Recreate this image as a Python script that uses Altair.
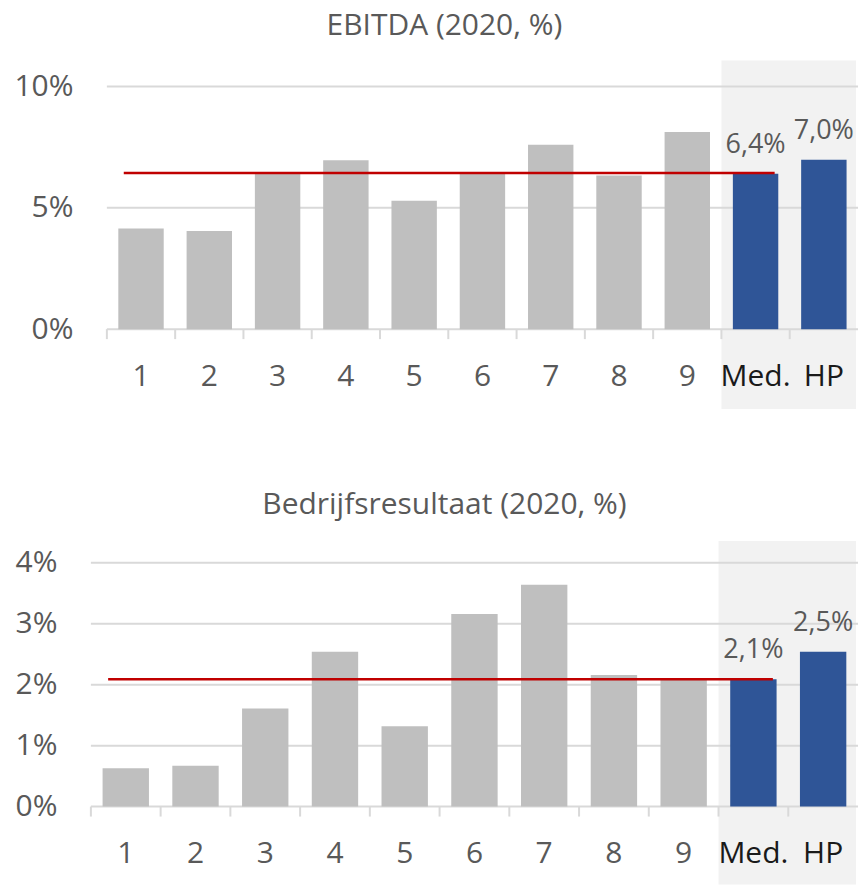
import altair as alt
import pandas as pd

FONT = "Open Sans"

CATS = ["1", "2", "3", "4", "5", "6", "7", "8", "9", "Med.", "HP"]
HIGHLIGHT = ["Med.", "HP"]

EBITDA_TITLE = "EBITDA (2020, %)"
EBITDA_VALUES = [4.15, 4.04, 6.43, 6.96, 5.29, 6.43, 7.60, 6.33, 8.12, 6.40, 6.98]
EBITDA_MEDIAN = 6.43
EBITDA_TICKS = [0, 5, 10]

BEDRIJF_TITLE = "Bedrijfsresultaat (2020, %)"
BEDRIJF_VALUES = [0.63, 0.67, 1.61, 2.54, 1.32, 3.16, 3.64, 2.16, 2.09, 2.09, 2.54]
BEDRIJF_MEDIAN = 2.09
BEDRIJF_TICKS = [0, 1, 2, 3, 4]

GREY_TEXT = "#595959"
GRID = "#d9d9d9"
P_INNER = 0.335
P_OUTER = P_INNER / 2
WIDTH = 768
EXTENT = 91


def panel(title, values, median, ticks, left, height,
          gray_top, gray_bottom, title_y):
    df = pd.DataFrame({
        "cat": CATS,
        "val": values,
        "grp": ["hl" if c in HIGHLIGHT else "base" for c in CATS],
        "lab": [f"{v:.1f}".replace(".", ",") + "%" for v in values],
    })
    span = WIDTH - left
    step = span / (len(CATS) - P_INNER + 2 * P_OUTER)
    half_gap = -P_INNER * step / 2
    xscale = alt.Scale(domain=CATS, paddingInner=P_INNER, paddingOuter=P_OUTER,
                       range=[left, WIDTH])
    yscale = alt.Scale(domain=[0, ticks[-1]], nice=False, zero=True)

    x = alt.X(
        "cat:N", scale=xscale, sort=None,
        axis=alt.Axis(
            title=None, labelAngle=0, labelAlign="center", domain=False,
            ticks=False, tickSize=0, grid=False, labelPadding=56,
            labelBaseline="alphabetic", labelFont=FONT, labelFontSize=30,
            labelOverlap=False,
            labelColor={"condition": {"test": "datum.value == 'Med.' || datum.value == 'HP'",
                                      "value": "#1a1a1a"},
                        "value": GREY_TEXT},
        ),
    )
    y = alt.Y(
        "val:Q", scale=yscale,
        axis=alt.Axis(
            title=None, values=ticks, labelExpr="datum.value + '%'", grid=False,
            domain=False, ticks=False, tickSize=0, labelPadding=34 - left,
            labelFont=FONT, labelFontSize=30, labelColor=GREY_TEXT,
            minExtent=EXTENT, maxExtent=EXTENT,
        ),
    )

    gray = alt.Chart(pd.DataFrame({"cat": [HIGHLIGHT[0]]})).mark_rect(
        color="#f2f2f2", clip=False, xOffset=half_gap
    ).encode(
        x=alt.X("cat:N", scale=xscale, bandPosition=0),
        x2=alt.value(WIDTH - 2),
        y=alt.value(gray_top),
        y2=alt.value(height + gray_bottom),
    )

    grid = alt.Chart(pd.DataFrame({"val": ticks})).mark_rule(
        color=GRID, strokeWidth=2
    ).encode(y=y, x=alt.value(left), x2=alt.value(WIDTH))

    tickmarks = alt.Chart(df).mark_rule(
        color=GRID, strokeWidth=2, xOffset=half_gap
    ).encode(
        x=alt.X("cat:N", scale=xscale, bandPosition=0),
        y=alt.value(height),
        y2=alt.value(height + 10),
    )

    bars = alt.Chart(df).mark_bar().encode(
        x=x, y=y,
        color=alt.Color("grp:N", scale=alt.Scale(domain=["base", "hl"],
                                                 range=["#bfbfbf", "#2f5597"]),
                        legend=None),
    )

    med = alt.Chart(pd.DataFrame({"cat": [CATS[0]], "cat2": [HIGHLIGHT[0]],
                                  "val": [median]})).mark_rule(
        color="#c00000", strokeWidth=2.5
    ).encode(
        x=alt.X("cat:N", scale=xscale, bandPosition=0.12),
        x2=alt.X2("cat2", bandPosition=0.92),
        y=y,
    )

    labels = alt.Chart(df).transform_filter(
        "datum.grp == 'hl'"
    ).mark_text(
        dy=-21, baseline="alphabetic", align="center", font=FONT,
        fontSize=27, color=GREY_TEXT
    ).encode(x=x, y=y, text="lab:N")

    ttl = alt.Chart(pd.DataFrame({"t": [title]})).mark_text(
        baseline="alphabetic", align="center", font=FONT, fontSize=30,
        color=GREY_TEXT
    ).encode(text="t:N", x=alt.value(445 - EXTENT), y=alt.value(title_y))

    return alt.layer(gray, grid, tickmarks, bars, med, labels, ttl).properties(
        width=WIDTH, height=height
    )


top = panel(EBITDA_TITLE, EBITDA_VALUES, EBITDA_MEDIAN, EBITDA_TICKS,
            16, 243, -26, 80, -51)
bottom = panel(BEDRIJF_TITLE, BEDRIJF_VALUES, BEDRIJF_MEDIAN, BEDRIJF_TICKS,
               0, 244, -22, 78, -49)

chart = alt.vconcat(top, bottom, spacing=81).configure_view(
    stroke=None
).properties(
    padding={"left": 0, "top": 11, "right": 0, "bottom": 0},
    background="white",
)

chart.save("out.html", embed_options={"renderer": "svg", "actions": False})
